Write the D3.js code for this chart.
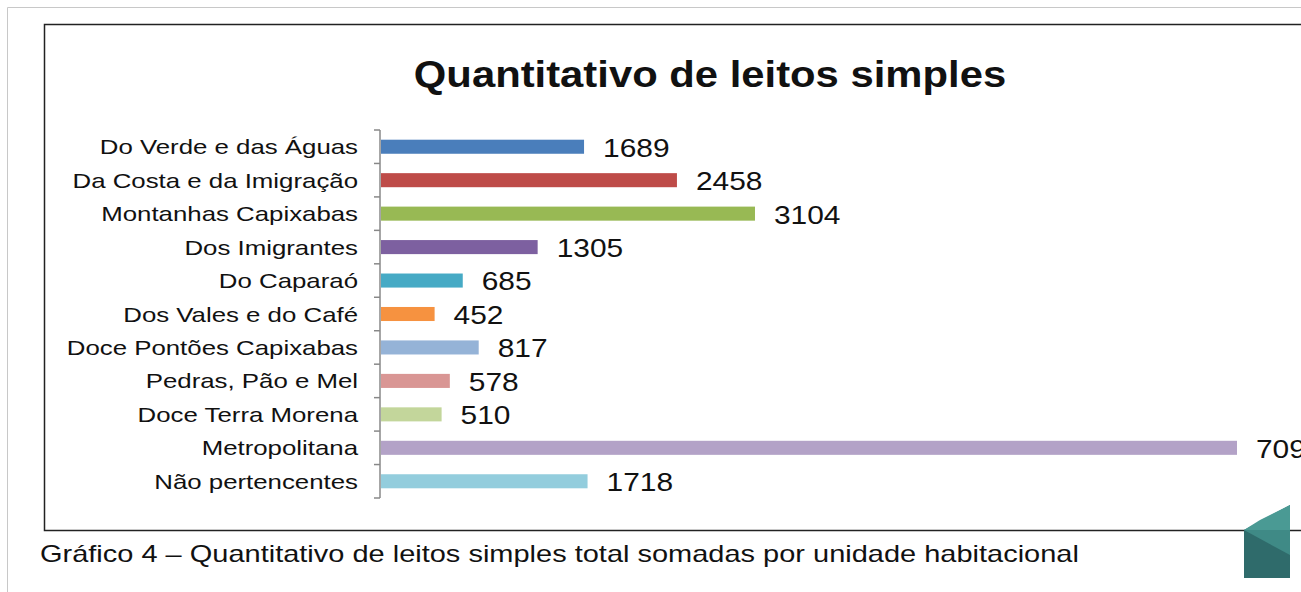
<!DOCTYPE html>
<html>
<head>
<meta charset="utf-8">
<script src="https://cdn.jsdelivr.net/npm/d3@7"></script>
<style>
	body { margin: 0; background: #fff; }
	svg { display: block; font-family: "Liberation Sans", Arial, sans-serif; }
</style>
</head>
<body>
<div id="chart"></div>
<script>
var regioes = [
	"Do Verde e das Águas",
	"Da Costa e da Imigração",
	"Montanhas Capixabas",
	"Dos Imigrantes",
	"Do Caparaó",
	"Dos Vales e do Café",
	"Doce Pontões Capixabas",
	"Pedras, Pão e Mel",
	"Doce Terra Morena",
	"Metropolitana",
	"Não pertencentes"
];
var leitos = [1689, 2458, 3104, 1305, 685, 452, 817, 578, 510, 7094, 1718];
var cores = ["#4a7ebb", "#be4b48", "#98b954", "#7d60a0", "#46aac5", "#f69240",
	"#95b3d7", "#d99694", "#c3d69b", "#b3a2c7", "#93cddd"];

var width = 1301, height = 592;

var svg = d3.select("#chart")
	.append("svg")
	.attr("width", width)
	.attr("height", height);

// page edge
svg.append("path")
	.attr("d", "M7.5,592 V7.5 H1301")
	.attr("fill", "none")
	.attr("stroke", "#c8c8c8")
	.attr("stroke-width", 1);

// chart frame
svg.append("rect")
	.attr("x", 44.5)
	.attr("y", 24.5)
	.attr("width", 1300)
	.attr("height", 506)
	.attr("fill", "#fff")
	.attr("stroke", "#222")
	.attr("stroke-width", 1.5);

// the source picture is stretched sideways, so texts get a scaleX
svg.append("text")
	.attr("transform", "translate(710,87) scale(1.13,1)")
	.attr("text-anchor", "middle")
	.attr("font-size", 37)
	.attr("font-weight", "bold")
	.attr("fill", "#111")
	.text("Quantitativo de leitos simples");

var x = d3.scaleLinear()
	.domain([0, 7094])
	.range([380, 1237]);

var y = d3.scaleBand()
	.domain(regioes)
	.range([130, 498])
	.paddingInner(0.58)
	.paddingOuter(0.29);

// category axis with ticks between the bands
var bordas = d3.range(regioes.length + 1).map(function(i) {
	return 130 + i * (498 - 130) / regioes.length;
});
var eixo = svg.append("g").attr("class", "yAxis");
eixo.append("line")
	.attr("x1", 380).attr("x2", 380)
	.attr("y1", bordas[0]).attr("y2", bordas[bordas.length - 1])
	.attr("stroke", "#888").attr("stroke-width", 1.5);
eixo.selectAll("line.tick")
	.data(bordas)
	.enter().append("line")
	.attr("class", "tick")
	.attr("x1", 374).attr("x2", 380)
	.attr("y1", function(d) { return d; })
	.attr("y2", function(d) { return d; })
	.attr("stroke", "#888").attr("stroke-width", 1.5);
eixo.selectAll("text")
	.data(regioes)
	.enter().append("text")
	.attr("transform", function(d) {
		return "translate(358," + (y(d) + y.bandwidth() / 2) + ") scale(1.23,1)";
	})
	.attr("dy", "0.36em")
	.attr("text-anchor", "end")
	.attr("font-size", 21)
	.attr("fill", "#111")
	.text(function(d) { return d; });

var barras = svg.append("g");
barras.selectAll("rect")
	.data(leitos)
	.enter().append("rect")
	.attr("x", x(0) + 1)
	.attr("y", function(d, i) { return y(regioes[i]); })
	.attr("width", function(d) { return x(d) - x(0) - 1; })
	.attr("height", y.bandwidth())
	.attr("fill", function(d, i) { return cores[i]; });

barras.selectAll("text")
	.data(leitos)
	.enter().append("text")
	.attr("transform", function(d, i) {
		return "translate(" + (x(d) + 19) + "," + (y(regioes[i]) + y.bandwidth() / 2) + ") scale(1.15,1)";
	})
	.attr("dy", "0.38em")
	.attr("font-size", 26)
	.attr("fill", "#111")
	.text(function(d) { return d; });

// corner decoration
var deco = svg.append("g");
deco.append("polygon").attr("points", "1244,530 1290,505 1290,578 1244,578").attr("fill", "#2f6b6b");
deco.append("polygon").attr("points", "1244,530 1290,530 1290,555").attr("fill", "#3f8a86");
deco.append("polygon").attr("points", "1260,520 1290,505 1290,530 1244,530").attr("fill", "#4a9a94");

svg.append("text")
	.attr("transform", "translate(40,562) scale(1.26,1)")
	.attr("font-size", 23)
	.attr("fill", "#111")
	.text("Gráfico 4 – Quantitativo de leitos simples total somadas por unidade habitacional");
</script>
</body>
</html>
